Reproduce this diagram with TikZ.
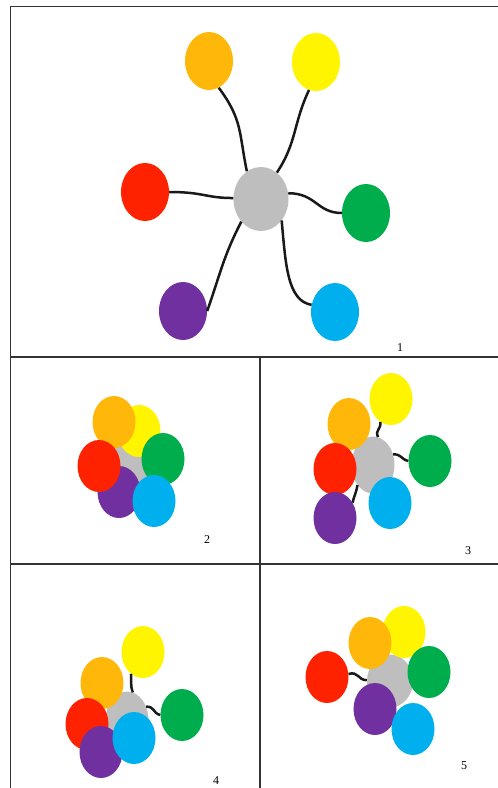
\documentclass[tikz,border=0pt]{standalone}
\usepackage{fontspec}
\setmainfont{Liberation Serif}
\usepackage{tikz}
\usetikzlibrary{shapes.geometric}
\definecolor{cor}{HTML}{FFB80A}
\definecolor{cyl}{HTML}{FFF500}
\definecolor{crd}{HTML}{FF2200}
\definecolor{cgr}{HTML}{00AD4C}
\definecolor{cpu}{HTML}{7030A0}
\definecolor{cbl}{HTML}{00B0EE}
\definecolor{hubg}{HTML}{BEBEBE}
\tikzset{
  blob/.style={ellipse,inner sep=0pt,minimum width=48pt,minimum height=58pt},
  sblob/.style={ellipse,inner sep=0pt,minimum width=43pt,minimum height=52pt},
  hub/.style={blob,fill=hubg,minimum width=55pt,minimum height=64pt},
  shub/.style={sblob,fill=hubg,minimum width=43pt,minimum height=57pt},
  wire/.style={draw=black!90,line width=2.5pt},
  frame/.style={draw=black!80,line width=1.3pt},
  lab/.style={font=\fontsize{12}{14}\selectfont,inner sep=0pt},
}
\begin{document}
\begin{tikzpicture}[x=1pt,y=-1pt]
\useasboundingbox (0,0) rectangle (498,788);

\draw[frame] (498,6.5) -| (10.5,788);
\draw[frame] (10.5,357) -- (498,357);
\draw[frame] (10.5,564) -- (498,564);
\draw[frame] (260,357) -- (260,788);

% panel 1
\node[hub] (gy1) at (261,199) {};
\node[blob,fill=cor] (or1) at (209,61) {};
\node[blob,fill=cyl] (yl1) at (316,62) {};
\node[blob,fill=crd] (rd1) at (145,192) {};
\node[blob,fill=cgr] (gr1) at (366,213) {};
\node[blob,fill=cpu] (pu1) at (183,311) {};
\node[blob,fill=cbl] (bl1) at (335,312) {};
\draw[wire] (or1.-70) .. controls +(24,32) and +(-8,-38) .. (gy1.117);
\draw[wire] (yl1.-104) .. controls +(-16,34) and +(20,-30) .. (gy1.59);
\draw[wire] (rd1.east) .. controls +(35,0) and +(-28,0) .. (gy1.178);
\draw[wire] (gy1.12) .. controls +(28,0) and +(-25,0) .. (gr1.west);
\draw[wire] (gy1.-131) .. controls +(-18,35) and +(14,-40) .. (pu1.east);
\draw[wire] (gy1.-46) .. controls +(4,45) and +(-24,-4) .. (bl1.163);
\node[lab] (n1) at (400,348) {1};

% panel 2
\node[shub] (gy2) at (130,460) {};
\node[sblob,fill=cyl] (yl2) at (139,431) {};
\node[sblob,fill=cor] (or2) at (114,422) {};
\node[sblob,fill=cgr] (gr2) at (163,459) {};
\node[sblob,fill=cpu] (pu2) at (119,492) {};
\node[sblob,fill=cbl] (bl2) at (154,501) {};
\node[sblob,fill=crd] (rd2) at (99,466) {};
\node[lab] (n2) at (207,540) {2};

% panel 3
\node[shub] (gy3) at (373,465) {};
\node[sblob,fill=cor] (or3) at (349,424) {};
\node[sblob,fill=crd] (rd3) at (335,469) {};
\node[sblob,fill=cpu] (pu3) at (335,518) {};
\node[sblob,fill=cyl] (yl3) at (391,399) {};
\node[sblob,fill=cgr] (gr3) at (430,461) {};
\node[sblob,fill=cbl] (bl3) at (390,503) {};
\draw[wire] (gy3.80) .. controls +(-3,-8) and +(1,8) .. (yl3.-115);
\draw[wire] (gy3.28) .. controls +(9,0) and +(-8,-2) .. (gr3.west);
\draw[wire] (gy3.-128) .. controls +(-1,8) and +(1,-6) .. (pu3.41);
\node[lab] (n3) at (468,551) {3};

% panel 4
\node[shub] (gy4) at (127,720) {};
\node[sblob,fill=cyl] (yl4) at (143,652) {};
\node[sblob,fill=cor] (or4) at (102,683) {};
\node[sblob,fill=crd] (rd4) at (87,724) {};
\node[sblob,fill=cpu] (pu4) at (101,752) {};
\node[sblob,fill=cbl] (bl4) at (134,738) {};
\node[sblob,fill=cgr] (gr4) at (182,715) {};
\draw[wire] (gy4.78) .. controls +(-3,-8) and +(1,8) .. (yl4.-119);
\draw[wire] (gy4.35) .. controls +(9,0) and +(-8,-2) .. (gr4.west);
\node[lab] (n4) at (216,781) {4};

% panel 5
\node[shub,minimum width=46pt,minimum height=53pt] (gy5) at (390,681) {};
\node[sblob,fill=cyl] (yl5) at (404,632) {};
\node[sblob,fill=cor] (or5) at (370,643) {};
\node[sblob,fill=cgr] (gr5) at (429,672) {};
\node[sblob,fill=cpu] (pu5) at (375,709) {};
\node[sblob,fill=cbl] (bl5) at (413,729) {};
\node[sblob,fill=crd] (rd5) at (327,677) {};
\draw[wire] (rd5.8) .. controls +(10,-3) and +(-9,0) .. (gy5.178);
\node[lab] (n5) at (464,766) {5};
\end{tikzpicture}
\end{document}
